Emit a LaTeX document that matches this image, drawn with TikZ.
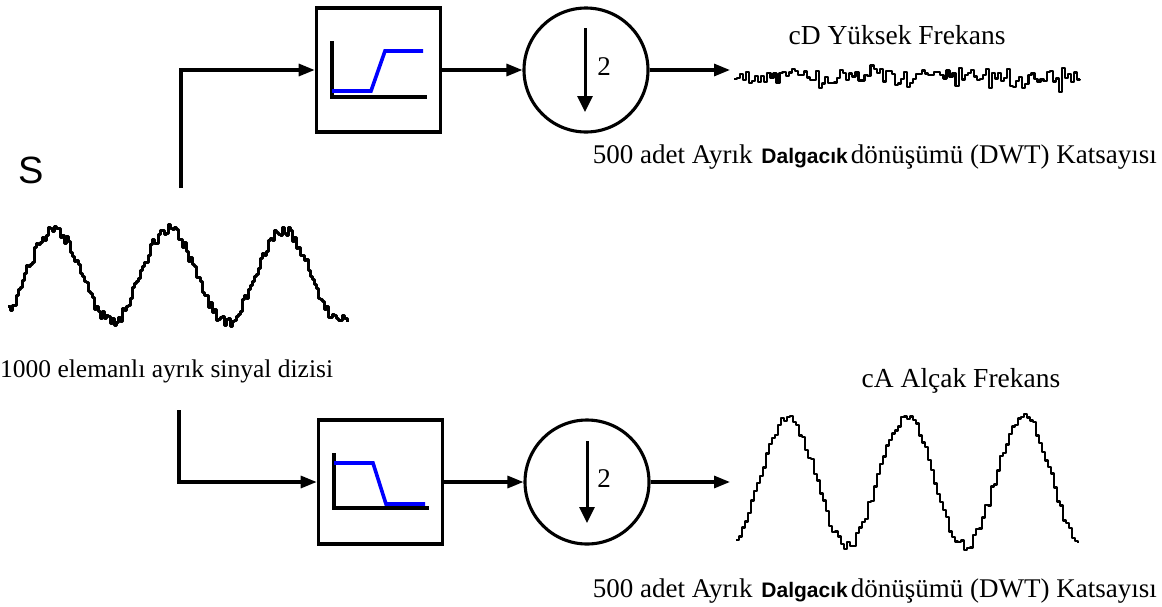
\documentclass[tikz,border=0pt]{standalone}
\usepackage{fontspec}
\setmainfont{Liberation Serif}
\newfontfamily\arialfont{Liberation Sans}
\usetikzlibrary{arrows.meta}
\newcommand{\dwttext}{500 adet Ayrık\hspace{9pt}{\arialfont\bfseries\fontsize{21}{22}\selectfont Dalgacık}\hspace{3pt}dönüşümü (DWT) Katsayısı}
\begin{document}
\begin{tikzpicture}[x=1pt,y=-1pt,
  conn/.style={line width=3.1pt, -{Triangle[length=16pt,width=12pt]}},
  filterbox/.style={draw, line width=3.6pt, minimum width=124pt, minimum height=124pt, inner sep=0pt},
  downsamp/.style={circle, draw, line width=3.1pt, minimum size=124pt, inner sep=0pt},
  downarrow/.style={line width=3pt, -{Triangle[length=16pt,width=15pt]}},
  axisline/.style={line width=3.2pt},
  response/.style={line width=3.6pt, blue},
  lbl/.style={inner sep=0pt, font=\fontsize{25.5}{30}\selectfont},
  dwt/.style={inner sep=0pt, font=\fontsize{27}{30}\selectfont},
  small/.style={inner sep=0pt, font=\fontsize{27.5}{30}\selectfont},
  signal/.style={line join=round, const plot}
]
\useasboundingbox (0,0) rectangle (1162,606);

% ---------- high-pass branch ----------
\node[filterbox] (hp) at (378.5,70) {};
\node[downsamp] (dh) at (586,70) {};
\coordinate (hin) at (181,188);
\coordinate (hout) at (730,70);
\draw[conn] (hin) |- (hp.west);
\draw[conn] (hp.east) -- (dh.west);
\draw[conn] (dh.east) -- (hout);
\begin{scope}[shift={(hp.center)}]
  \draw[axisline] (-46.5,-29) -- (-46.5,27) -- (48.5,27);
  \draw[response] (-46.5,21) -- (-7.5,21) -- (6.5,-19) -- (44.5,-19);
\end{scope}
\coordinate (dht) at ([xshift=-1pt,yshift=42pt]dh.center);
\coordinate (dhb) at ([xshift=-1pt,yshift=-42pt]dh.center);
\draw[downarrow] (dht) -- (dhb);
\node[inner sep=0pt, font=\fontsize{27}{28}\selectfont] (dh2) at (604,67) {2};

% ---------- low-pass branch ----------
\node[filterbox] (lp) at (380.5,482) {};
\node[downsamp] (dl) at (587,482) {};
\coordinate (lin) at (179,410);
\coordinate (lout) at (730,482);
\draw[conn] (lin) |- (lp.west);
\draw[conn] (lp.east) -- (dl.west);
\draw[conn] (dl.east) -- (lout);
\begin{scope}[shift={(lp.center)}]
  \draw[axisline] (-46.5,-29) -- (-46.5,26) -- (48.5,26);
  \draw[response] (-46.5,-19) -- (-7.5,-19) -- (5.5,22) -- (44.5,22);
\end{scope}
\coordinate (dlt) at ([yshift=41pt]dl.center);
\coordinate (dlb) at ([yshift=-41pt]dl.center);
\draw[downarrow] (dlt) -- (dlb);
\node[inner sep=0pt, font=\fontsize{27}{28}\selectfont] (dl2) at (604,479) {2};

% ---------- signals ----------
\pgfmathsetseed{4711}
\draw[signal, line width=3pt] plot[domain=8:347, samples=170, variable=\t]
  (\t, {276 - 46*cos(3.1304*(\t-53)) + 6*rand});
\draw[signal, line width=2.2pt] plot[domain=734:1080, samples=115, variable=\t]
  (\t, {76 + 7*rand + 18*rand*rand*rand});
\draw[signal, line width=2.4pt] plot[domain=736:1078, samples=115, variable=\t]
  (\t, {482 - 64*cos(3.0508*(\t-787)) + 5*rand});

% ---------- texts ----------
\node[inner sep=0pt, anchor=base west, font=\arialfont\fontsize{38}{40}\selectfont] (S) at (18.5,183) {S};
\node[lbl, anchor=base west] (insig) at (0,377) {1000 elemanlı ayrık sinyal dizisi};
\node[small, anchor=base] (cD) at (897,44) {cD Yüksek Frekans};
\node[small, anchor=base] (cA) at (961,387) {cA Alçak Frekans};
\node[dwt, anchor=base east] (dwtH) at (1157,163) {\dwttext};
\node[dwt, anchor=base east] (dwtL) at (1157,597) {\dwttext};
\end{tikzpicture}
\end{document}
